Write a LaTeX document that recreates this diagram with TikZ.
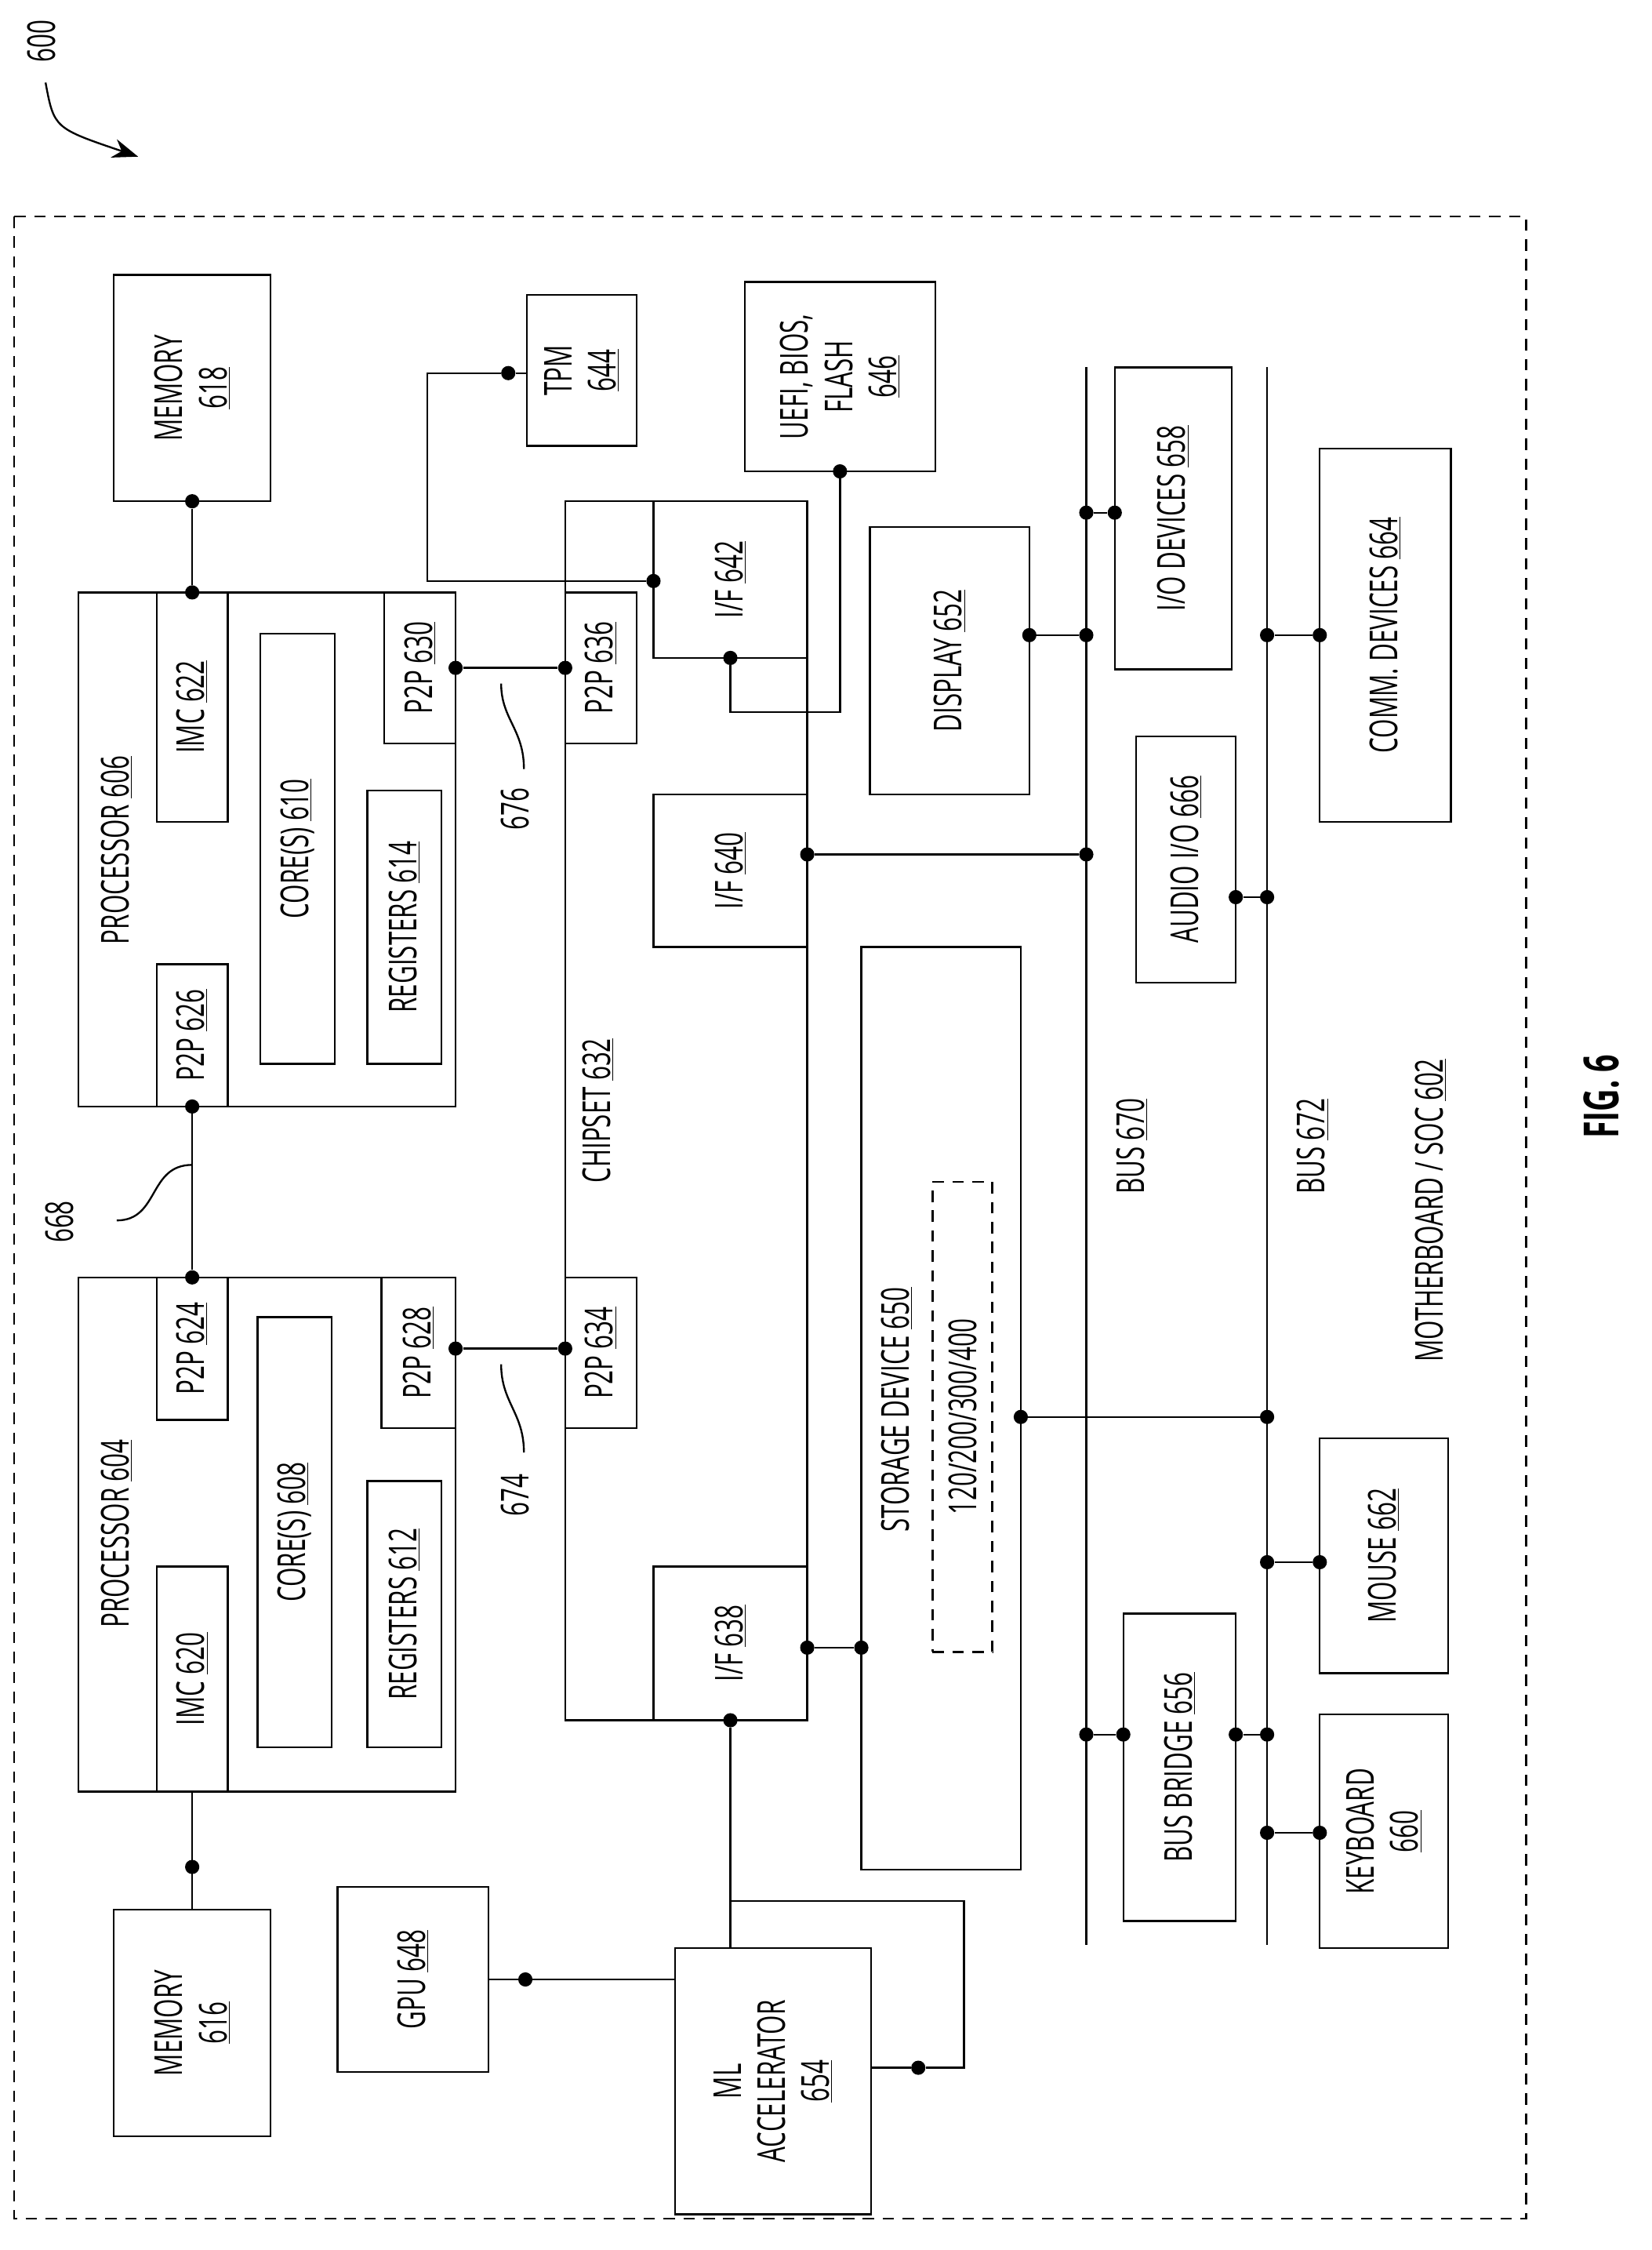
\documentclass[tikz,border=0pt]{standalone}
\usepackage{fontspec}
\setmainfont{Open Sans}[FakeStretch=0.64]
\usetikzlibrary{fit,arrows.meta}
\tikzset{
  box/.style={draw, line width=1.3pt, inner sep=0pt},
  lbl/.style={rotate=90, align=center, font=\fontsize{27}{31}\selectfont},
  dot/.style={circle, fill, inner sep=0pt, minimum size=10pt},
  wire/.style={line width=1.3pt}
}
% block: name, x1, y1, x2, y2, text
\newcommand\blk[6]{%
  \node[box, fit={(#2,#3)(#4,#5)}] (#1) {};
  \node[lbl] at (#1.center) {#6};}
\begin{document}
\begin{tikzpicture}[x=1pt, y=-1pt]
\useasboundingbox (0,0) rectangle (1160,1580);

% figure reference
\node[lbl] (ref) at (29,29) {600};
\draw[wire, -{Stealth[length=18pt]}] (32,58) .. controls (38,90) .. (97,110);
\draw[line width=1.2pt, dash pattern=on 8pt off 6pt] (10,152) rectangle (1072,1558);

% processor 606
\blk{mem618}{80}{193}{190}{352}{MEMORY\\\underline{618}}
\node[box, fit={(55,416)(320,777)}] (proc606) {};
\node[lbl] at (82,597) {PROCESSOR \underline{606}};
\blk{imc622}{110}{416}{160}{577}{IMC \underline{622}}
\blk{pp626}{110}{677}{160}{777}{P2P \underline{626}}
\blk{core610}{183}{445}{235}{747}{CORE(S) \underline{610}}
\blk{reg614}{258}{555}{310}{747}{REGISTERS \underline{614}}
\blk{pp630}{270}{416}{320}{522}{P2P \underline{630}}

% processor 604
\blk{mem616}{80}{1341}{190}{1500}{MEMORY\\\underline{616}}
\node[box, fit={(55,897)(320,1258)}] (proc604) {};
\node[lbl] at (82,1077) {PROCESSOR \underline{604}};
\blk{imc620}{110}{1100}{160}{1258}{IMC \underline{620}}
\blk{pp624}{110}{897}{160}{997}{P2P \underline{624}}
\blk{core608}{181}{925}{233}{1227}{CORE(S) \underline{608}}
\blk{reg612}{258}{1040}{310}{1227}{REGISTERS \underline{612}}
\blk{pp628}{268}{897}{320}{1003}{P2P \underline{628}}

% chipset
\node[box, fit={(397,352)(567,1208)}] (chip632) {};
\node[lbl] at (420,780) {CHIPSET \underline{632}};
\blk{pp636}{397}{416}{447}{522}{P2P \underline{636}}
\blk{pp634}{397}{897}{447}{1003}{P2P \underline{634}}
\blk{if642}{459}{352}{567}{462}{I/F \underline{642}}
\blk{if640}{459}{558}{567}{665}{I/F \underline{640}}
\blk{if638}{459}{1100}{567}{1208}{I/F \underline{638}}

% peripherals
\blk{tpm644}{370}{207}{447}{313}{TPM\\\underline{644}}
\blk{uefi646}{523}{198}{657}{331}{UEFI, BIOS,\\FLASH\\\underline{646}}
\blk{disp652}{611}{370}{723}{558}{DISPLAY \underline{652}}
\blk{io658}{783}{258}{865}{470}{I/O DEVICES \underline{658}}
\blk{comm664}{927}{315}{1019}{577}{COMM. DEVICES \underline{664}}
\blk{aud666}{798}{517}{868}{690}{AUDIO I/O \underline{666}}
\node[box, fit={(605,665)(717,1313)}] (stor650) {};
\node[lbl] at (630,990) {STORAGE DEVICE \underline{650}};
\node[box, dash pattern=on 8pt off 6pt, fit={(655,830)(697,1160)}] (inner650) {};
\node[lbl] at (676,995) {120/200/300/400};
\blk{mouse662}{927}{1010}{1017}{1175}{MOUSE \underline{662}}
\blk{bridge656}{789}{1133}{868}{1349}{BUS BRIDGE \underline{656}}
\blk{kbd660}{927}{1204}{1017}{1368}{KEYBOARD\\\underline{660}}
\blk{gpu648}{237}{1325}{343}{1455}{GPU \underline{648}}
\blk{ml654}{474}{1368}{612}{1555}{ML\\ACCELERATOR\\\underline{654}}

% buses
\coordinate (bus670t) at (763,258); \coordinate (bus670b) at (763,1366);
\coordinate (bus672t) at (890,258); \coordinate (bus672b) at (890,1366);
\draw[wire] (bus670t) -- (bus670b);
\draw[wire] (bus672t) -- (bus672b);
\node[lbl] at (795,805) {BUS \underline{670}};
\node[lbl] at (922,805) {BUS \underline{672}};
\node[lbl] at (1005,850) {MOTHERBOARD / SOC \underline{602}};
\node[lbl, font=\fontsize{34}{38}\selectfont\bfseries] at (1125,770) {FIG. 6};

% dots
\node[dot] (d618) at (135,352) {};  \node[dot] (d622) at (135,416) {};
\node[dot] (d626) at (135,777) {};  \node[dot] (d624) at (135,897) {};
\node[dot] (d620) at (135,1311) {};
\node[dot] (d630) at (320,469) {};  \node[dot] (d636) at (397,469) {};
\node[dot] (d628) at (320,947) {};  \node[dot] (d634) at (397,947) {};
\node[dot] (d644) at (357,262) {};  \node[dot] (d642a) at (459,408) {};
\node[dot] (d646) at (590,331) {};  \node[dot] (d642b) at (513,462) {};
\node[dot] (d652) at (723,446) {};  \node[dot] (b652) at (763,446) {};
\node[dot] (d658) at (783,360) {};  \node[dot] (b658) at (763,360) {};
\node[dot] (d664) at (927,446) {};  \node[dot] (b664) at (890,446) {};
\node[dot] (d666) at (868,630) {};  \node[dot] (b666) at (890,630) {};
\node[dot] (d640) at (567,600) {};  \node[dot] (b640) at (763,600) {};
\node[dot] (d650) at (717,995) {};  \node[dot] (b650) at (890,995) {};
\node[dot] (d638) at (567,1157) {}; \node[dot] (s650) at (605,1157) {};
\node[dot] (d662) at (927,1097) {}; \node[dot] (b662) at (890,1097) {};
\node[dot] (b656a) at (763,1218) {}; \node[dot] (d656a) at (789,1218) {};
\node[dot] (d656b) at (868,1218) {}; \node[dot] (b656b) at (890,1218) {};
\node[dot] (d660) at (927,1287) {}; \node[dot] (b660) at (890,1287) {};
\node[dot] (d648) at (369,1390) {};
\node[dot] (d638b) at (513,1208) {};
\node[dot] (d654) at (645,1452) {};

% connectors
\draw[wire] (d618) -- (d622);
\draw[wire] (d626) -- (d624);
\draw[wire] (imc620.south) -- (mem616.north);
\draw[wire] (d630) -- (d636);
\draw[wire] (d628) -- (d634);
\draw[wire] (d644) -- (300,262) -- (300,408) -- (d642a);
\draw[wire] (d646) -- (590,500) -- (513,500) -- (d642b);
\draw[wire] (d652) -- (b652);
\draw[wire] (d658) -- (b658);
\draw[wire] (d664) -- (b664);
\draw[wire] (d666) -- (b666);
\draw[wire] (d640) -- (b640);
\draw[wire] (d650) -- (b650);
\draw[wire] (d638) -- (s650);
\draw[wire] (d662) -- (b662);
\draw[wire] (b656a) -- (d656a);
\draw[wire] (d656b) -- (b656b);
\draw[wire] (d660) -- (b660);
\draw[wire] (d644) -- (tpm644.west |- d644);
\draw[wire] (gpu648.east |- d648) -- (ml654.west |- d648);
\draw[wire] (d638b) -- (513,1368);
\draw[wire] (513,1335) -- (677,1335) -- (677,1452) -- (d654);
\draw[wire] (d654) -- (ml654.east |- d654);

% leader labels
\node[lbl] (l668) at (42,858) {668};
\draw[wire] (82,857) .. controls (112,857) and (104,818) .. (135,818);
\node[lbl] (l676) at (362,568) {676};
\draw[wire] (352,480) .. controls (352,505) and (368,512) .. (368,540);
\node[lbl] (l674) at (362,1050) {674};
\draw[wire] (352,958) .. controls (352,985) and (368,992) .. (368,1020);
\end{tikzpicture}
\end{document}
